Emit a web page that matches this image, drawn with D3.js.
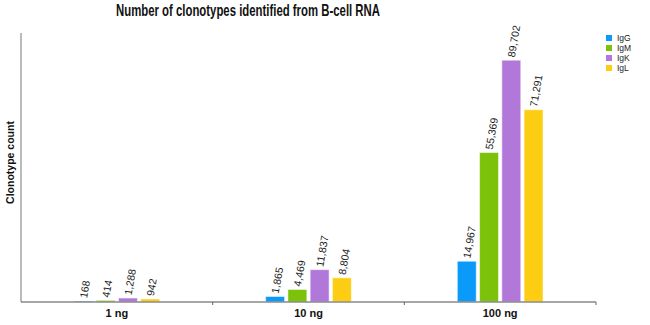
<!DOCTYPE html>
<html><head><meta charset="utf-8">
<script src="https://cdn.jsdelivr.net/npm/d3@7"></script>
<style>body{margin:0;background:#fff}svg{display:block}</style>
</head><body>
<svg id="c" width="650" height="325"></svg>
<script>
const categories = ["1 ng", "10 ng", "100 ng"];
const series = ["IgG", "IgM", "IgK", "IgL"];
const colors = ["#0A9BFA", "#7CC10A", "#B178DA", "#FDCD14"];
const IgG = [168, 1865, 14967];
const IgM = [414, 4469, 55369];
const IgK = [1288, 11837, 89702];
const IgL = [942, 8804, 71291];
const values = [IgG, IgM, IgK, IgL];
const title = "Number of clonotypes identified from B-cell RNA";
const yTitle = "Clonotype count";

const svg = d3.select("#c");
const L = 21, R = 596, T = 33, B = 302;
const x0 = d3.scaleBand().domain(categories).range([L, R]).padding(0);
const x1 = d3.scaleBand().domain(series).range([0, x0.bandwidth()]).paddingInner(0.15).paddingOuter(2.38);
const y = d3.scaleLinear().domain([0, 100000]).range([B, T]);
const color = d3.scaleOrdinal().domain(series).range(colors);
const fmt = d3.format(",");

svg.append("text").attr("x", 248).attr("y", 16).attr("text-anchor", "middle")
  .attr("textLength", 264).attr("lengthAdjust", "spacingAndGlyphs")
  .attr("font-family", "'Liberation Sans Narrow', 'Arial Narrow', 'Liberation Sans', sans-serif")
  .attr("font-weight", "bold").attr("font-size", 16.5).attr("fill", "#111").text(title);

const data = [];
categories.forEach((c, i) => series.forEach((s, j) => data.push({c, s, v: values[j][i]})));

const g = svg.append("g");
g.selectAll("rect").data(data).join("rect")
  .attr("x", d => x0(d.c) + x1(d.s))
  .attr("y", d => y(d.v) - 0.5)
  .attr("width", x1.bandwidth())
  .attr("height", d => B - y(d.v) + 0.5)
  .attr("fill", d => color(d.s))
  .attr("stroke", "#fff").attr("stroke-opacity", 0.5).attr("stroke-width", 1);

g.selectAll("text.v").data(data).join("text").attr("class", "v")
  .attr("transform", d => `translate(${x0(d.c) + x1(d.s) + x1.bandwidth() / 2 + 3.5},${y(d.v) - 3}) rotate(-80)`)
  .attr("font-family", "'Liberation Sans', Arial, sans-serif").attr("font-size", 10.5)
  .attr("fill", "#222").text(d => fmt(d.v));

// axes
const axg = svg.append("g").attr("transform", `translate(0,${B})`);
axg.append("line").attr("x1", L).attr("x2", R).attr("stroke", "#888").attr("stroke-width", 1.5);
axg.selectAll("line.t").data(categories).join("line").attr("class", "t")
  .attr("x1", d => x0(d) + x0.bandwidth()).attr("x2", d => x0(d) + x0.bandwidth())
  .attr("y1", 0).attr("y2", 3).attr("stroke", "#666");
axg.selectAll("text").data(categories).join("text")
  .attr("x", d => x0(d) + x0.bandwidth() / 2).attr("y", 15).attr("text-anchor", "middle")
  .attr("font-family", "'Liberation Sans', Arial, sans-serif").attr("font-weight", "bold")
  .attr("font-size", 11).attr("fill", "#111").text(d => d);

svg.append("line").attr("x1", L).attr("x2", L).attr("y1", T).attr("y2", B).attr("stroke", "#777").attr("stroke-width", 1);

svg.append("text").attr("transform", `translate(14,${(T + B) / 2 - 5}) rotate(-90)`)
  .attr("text-anchor", "middle").attr("font-family", "'Liberation Sans', Arial, sans-serif")
  .attr("font-weight", "bold").attr("font-size", 10.5).attr("fill", "#111").text(yTitle);

// legend
const lg = svg.append("g").selectAll("g").data(series).join("g")
  .attr("transform", (d, i) => `translate(606,${35 + i * 10})`);
lg.append("rect").attr("width", 6).attr("height", 6).attr("fill", d => color(d));
lg.append("text").attr("x", 11).attr("y", 6).attr("font-family", "'Liberation Sans Narrow', 'Liberation Sans', sans-serif")
  .attr("font-size", 8.5).attr("fill", "#222").text(d => d);
</script>
</body></html>
